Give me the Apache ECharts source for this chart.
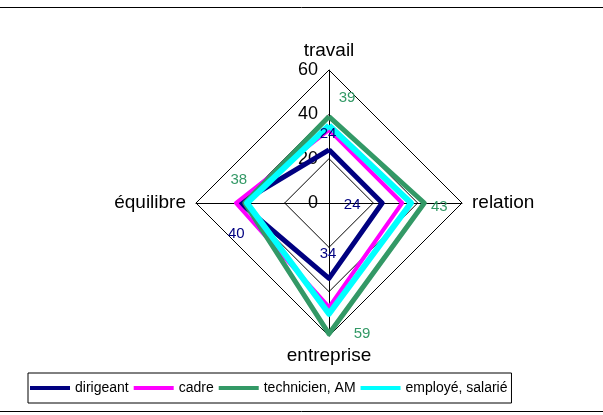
<!DOCTYPE html>
<html>
<head>
<meta charset="utf-8">
<script src="https://cdn.jsdelivr.net/npm/echarts@6/dist/echarts.min.js"></script>
<style>
  html, body { margin: 0; padding: 0; background: #fff; }
  #chart { width: 603px; height: 415px; }
</style>
</head>
<body>
<div id="chart"></div>
<script>
// axes, in the order ECharts places them (top, then counter-clockwise)
var indicators = ['travail', 'équilibre', 'entreprise', 'relation'];
var axisMax = 60;

var dirigeant  = [24, 40, 34, 24];
var cadre      = [33, 42, 47, 33];
var technicien = [39, 38, 59, 43];
var employe    = [35, 37, 50, 37];

var seriesNames = ['dirigeant', 'cadre', 'technicien, AM', 'employé, salarié'];

var CX = 329, CY = 203, R = 133;
var FONT = 'Liberation Sans, Arial, sans-serif';

// where each value label sits relative to its point (top, left, bottom, right vertex)
var labelShift = {
  dirigeant:  {top: [-1, -16], left: [-4, 31], bottom: [-1, -25], right: [-30, 2]},
  technicien: {top: [18, -19], left: [-6, -23], bottom: [33, 0], right: [15, 4]}
};

function side(rect) {
  var dx = rect.x + rect.width / 2 - CX;
  var dy = rect.y + rect.height / 2 - CY;
  if (Math.abs(dx) > Math.abs(dy)) return dx > 0 ? 'right' : 'left';
  return dy > 0 ? 'bottom' : 'top';
}

function layoutFor(key) {
  return function (p) {
    var s = labelShift[key][side(p.rect)];
    return {dx: s[0], dy: s[1]};
  };
}

var chart = echarts.init(document.getElementById('chart'));

var ind = indicators.map(function (n, i) {
  var o = {name: n, min: 0, max: axisMax};
  if (i === 0) {
    o.axisLabel = {show: true, color: '#000', fontSize: 18, fontFamily: FONT, margin: 11};
  }
  return o;
});

function radarSeries(name, values, color, width, labelColor, key) {
  var s = {
    name: name,
    type: 'radar',
    symbol: 'circle',
    symbolSize: 0.1,
    itemStyle: {color: color},
    lineStyle: {color: color, width: width},
    data: [{value: values, name: name}],
    label: {show: false}
  };
  if (key) {
    s.label = {show: true, position: 'inside', color: labelColor, fontSize: 15, fontFamily: FONT};
    s.labelLayout = layoutFor(key);
  }
  return s;
}

chart.setOption({
  animation: false,
  color: ['#000080', '#ff00ff', '#339966', '#00ffff'],
  radar: {
    center: [CX, CY],
    radius: R,
    shape: 'polygon',
    splitNumber: 3,
    nameGap: 10,
    axisName: {color: '#000', fontSize: 19, fontFamily: FONT},
    axisLine: {lineStyle: {color: '#000', width: 1}},
    splitLine: {lineStyle: {color: '#000', width: 1}},
    splitArea: {show: false},
    axisTick: {show: false},
    axisLabel: {show: false},
    indicator: ind
  },
  legend: {
    left: 28,
    top: 373,
    orient: 'horizontal',
    data: seriesNames,
    icon: 'rect',
    itemWidth: 40,
    itemHeight: 4,
    itemGap: 5,
    padding: [8, 4, 8, 2],
    borderColor: '#000',
    borderWidth: 1,
    borderRadius: 0,
    textStyle: {color: '#000', fontSize: 14, fontFamily: FONT}
  },
  graphic: [
    {type: 'line', shape: {x1: 0, y1: 7.5, x2: 603, y2: 7.5}, style: {stroke: '#000', lineWidth: 1}},
    {type: 'line', shape: {x1: 0, y1: 411.5, x2: 603, y2: 411.5}, style: {stroke: '#000', lineWidth: 1}}
  ],
  series: [
    radarSeries(seriesNames[0], dirigeant, '#000080', 5, '#000080', 'dirigeant'),
    radarSeries(seriesNames[1], cadre, '#ff00ff', 4, null, null),
    radarSeries(seriesNames[2], technicien, '#339966', 5, '#339966', 'technicien'),
    radarSeries(seriesNames[3], employe, '#00ffff', 6, null, null)
  ]
});
</script>
</body>
</html>
